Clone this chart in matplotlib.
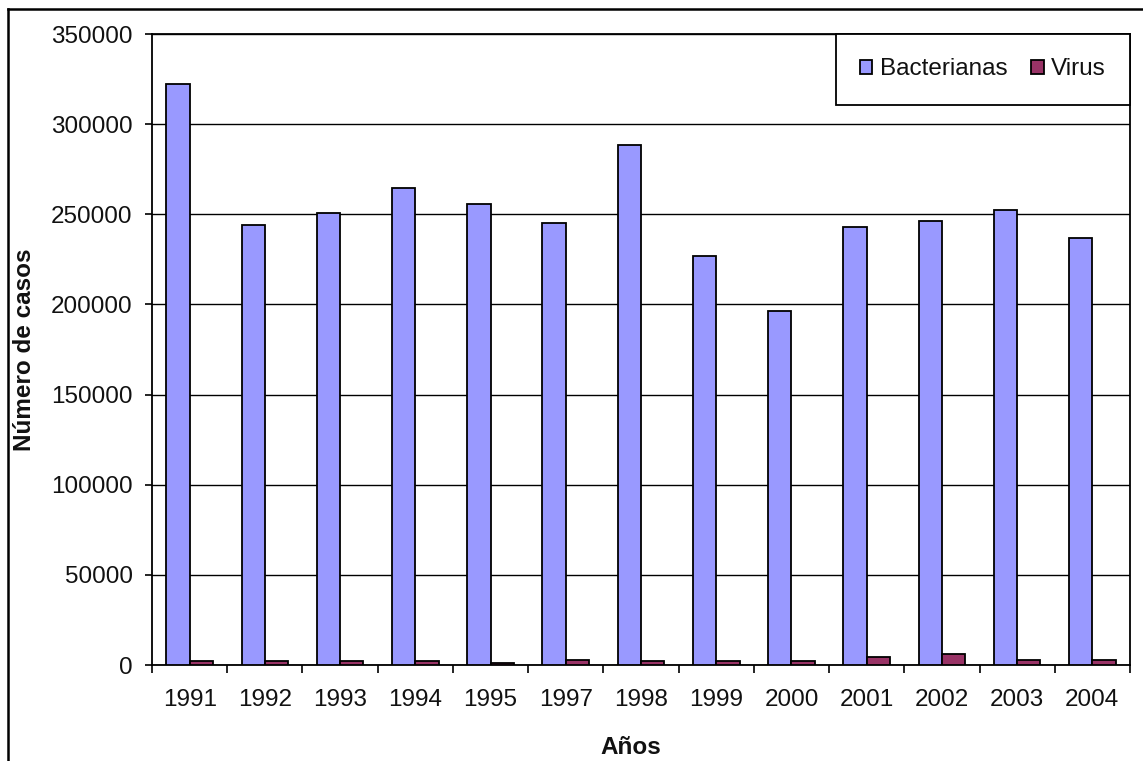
import matplotlib.pyplot as plt
import numpy as np
from matplotlib.lines import Line2D

# Casos por año
years = ["1991", "1992", "1993", "1994", "1995", "1997", "1998",
         "1999", "2000", "2001", "2002", "2003", "2004"]
bacterianas = [322000, 244300, 250900, 264500, 255900, 245200, 288600,
               227000, 196500, 242800, 246300, 252600, 236600]
virus = [2000, 2000, 2000, 2000, 900, 2800, 2000,
         2000, 2000, 4200, 6100, 2800, 2800]

plt.rcParams['font.family'] = ['Liberation Sans', 'DejaVu Sans']
text_color = '#111111'
fs = 17.5

fig = plt.figure(figsize=(11.43, 7.61), dpi=100)
ax = fig.add_axes([0.133, 0.1261, 0.8556, 0.8292])

x = np.arange(len(years))
w = 0.31
ax.bar(x - w / 2, bacterianas, width=w, color='#9999FF', edgecolor='black',
       linewidth=1.3, label='Bacterianas', zorder=3)
ax.bar(x + w / 2, virus, width=w, color='#993366', edgecolor='black',
       linewidth=1.3, label='Virus', zorder=3)

ax.set_xlim(-0.5, len(years) - 0.5)
ax.set_ylim(0, 350000)
ax.set_yticks(np.arange(0, 350001, 50000))
ax.set_yticklabels([str(v) for v in range(0, 350001, 50000)])
ax.yaxis.grid(True, color='black', linewidth=1.0, zorder=0)
ax.set_axisbelow(True)

# años centrados, marcas entre categorías
ax.set_xticks(x)
ax.set_xticklabels(years)
ax.set_xticks(np.arange(-0.5, len(years)), minor=True)
ax.tick_params(axis='x', which='major', length=0, pad=17,
               labelsize=fs, labelcolor=text_color)
ax.tick_params(axis='x', which='minor', length=6, width=1.2, direction='out')
ax.tick_params(axis='y', length=5, width=1.2, pad=9,
               labelsize=fs, labelcolor=text_color)

for s in ax.spines.values():
    s.set_linewidth(1.3)
    s.set_color('black')

ax.set_xlabel('Años', fontsize=fs, fontweight='bold', color=text_color)
ax.xaxis.set_label_coords(0.49, -0.112)
ax.set_ylabel('Número de casos', fontsize=fs, fontweight='bold', color=text_color)
ax.yaxis.set_label_coords(-0.119, 0.5)

leg = ax.legend(loc='upper right', bbox_to_anchor=(1.0, 1.0), ncol=2,
                borderaxespad=0, fontsize=fs, frameon=True, fancybox=False,
                handlelength=0.5, handleheight=0.5, handletextpad=0.3,
                columnspacing=1.0, borderpad=1.0)
leg.get_frame().set_edgecolor('black')
leg.get_frame().set_linewidth(1.3)
leg.get_frame().set_alpha(1)
leg.set_zorder(5)
for t in leg.get_texts():
    t.set_color(text_color)

# marco exterior (borde superior e izquierdo)
fig.add_artist(Line2D([8 / 1143, 1.0], [1 - 9 / 761, 1 - 9 / 761],
                      transform=fig.transFigure, color='black', linewidth=1.8))
fig.add_artist(Line2D([8 / 1143, 8 / 1143], [0.0, 1 - 9 / 761],
                      transform=fig.transFigure, color='black', linewidth=1.8))

fig.savefig('out.png', dpi=100)
plt.close(fig)
